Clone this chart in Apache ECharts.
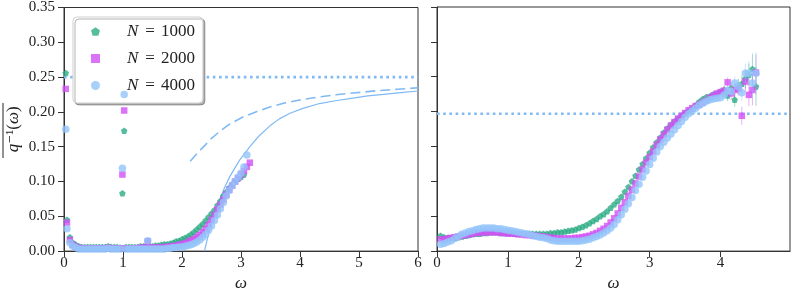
<!DOCTYPE html>
<html><head><meta charset="utf-8">
<script src="https://cdn.jsdelivr.net/npm/echarts@6/dist/echarts.min.js"></script>
<style>html,body{margin:0;padding:0;background:#fff}#c{width:793px;height:297px}</style>
</head><body><div id="c"></div>
<script>
// ---------- data ----------
const seriesNames = ['N = 1000', 'N = 2000', 'N = 4000'];
const xTicksLeft = [0, 1, 2, 3, 4, 5, 6];
const xTicksRight = [0, 1, 2, 3, 4];

// Left panel: omega grid 0.05 .. 3.15 (step 0.05)
const leftOmegaStart = 0.05, leftOmegaStep = 0.05;
const leftN1000 = [0.045,0.020,0.012,0.009,0.007,0.006,0.006,0.006,0.006,0.006,
  0.006,0.006,0.006,0.006,0.007,0.006,0.006,0.006,0.005,null,
  0.006,0.006,0.006,0.006,0.006,0.007,0.007,0.007,0.007,0.007,
  0.008,0.008,0.009,0.010,0.010,0.011,0.012,0.014,0.015,0.017,
  0.019,0.021,0.024,0.027,0.031,0.035,0.039,0.044,0.049,0.054,
  0.059,0.066,0.072,0.079,0.085,0.091,0.096,0.100,0.104,0.107,
  0.110,null,null];
const leftN2000 = [0.041,0.016,0.009,0.006,0.005,0.004,0.004,0.004,0.004,0.004,
  0.004,0.004,0.004,0.004,0.005,0.004,0.004,0.004,0.004,null,
  0.004,0.004,0.004,0.004,0.004,0.005,0.005,0.005,0.005,0.005,
  0.005,0.005,0.005,0.006,0.006,0.007,0.007,0.008,0.009,0.010,
  0.011,0.013,0.015,0.017,0.020,0.023,0.027,0.032,0.038,0.045,
  0.052,0.060,0.067,0.074,0.081,0.088,0.094,0.100,0.105,0.110,
  0.115,0.121,0.127];
const leftN4000 = [0.032,0.012,0.007,0.005,0.003,0.003,0.003,0.003,0.003,0.003,
  0.003,0.003,0.003,0.003,0.004,0.003,0.003,0.003,0.003,null,
  0.003,0.003,0.003,0.003,0.003,0.003,0.003,0.003,0.003,0.003,
  0.003,0.003,0.003,0.003,0.004,0.004,0.005,0.005,0.006,0.006,
  0.007,0.008,0.009,0.011,0.013,0.016,0.020,0.024,0.030,0.036,
  0.044,0.052,0.061,0.070,0.079,0.087,0.094,0.100,0.106,0.112,
  0.121,0.138,null];
// isolated points (omega, value)
const leftExtraOmega = [0.03, 0.99, 1.02, 1.42];
const leftExtra1000 = [0.256, 0.083, 0.173, 0.014];
const leftExtra2000 = [0.233, 0.110, 0.202, 0.014];
const leftExtra4000 = [0.175, 0.119, 0.225, 0.015];

// Left panel curves
const solidOmega = [2.38,2.42,2.47,2.52,2.58,2.64,2.72,2.81,2.90,2.98,3.07,3.15,3.30,3.49,3.65,3.83,4.05,4.33,4.60,4.84,5.15,5.46,5.75,6.00];
const solidValue = [0.000,0.014,0.031,0.045,0.060,0.074,0.091,0.107,0.120,0.131,0.141,0.150,0.165,0.180,0.190,0.198,0.205,0.212,0.216,0.219,0.223,0.2256,0.228,0.230];
const dashOmega = [2.14,2.22,2.31,2.40,2.50,2.64,2.80,3.04,3.25,3.49,3.75,4.05,4.33,4.61,4.95,5.29,5.65,6.00];
const dashValue = [0.129,0.137,0.145,0.153,0.162,0.172,0.182,0.193,0.200,0.207,0.213,0.218,0.2215,0.2246,0.2275,0.2303,0.2326,0.2346];
const leftLevel = 0.25;
const rightLevel = 0.197;

// Right panel: omega grid 0.05 .. 4.50 (step 0.05)
const rightOmegaStart = 0.05, rightOmegaStep = 0.05;
const rightN1000 = [.022,.020,.019,.019,.019,.020,.021,.022,.023,.024,
  .025,.025,.026,.026,.027,.027,.027,.026,.026,.026,
  .026,.025,.025,.025,.025,.025,.025,.025,.025,.025,
  .025,.026,.026,.027,.027,.028,.029,.030,.031,.033,
  .035,.037,.040,.043,.046,.050,.053,.057,.062,.067,
  .072,.078,.085,.092,.100,.108,.117,.125,.133,.141,
  .149,.156,.163,.170,.176,.181,.186,.190,.194,.198,
  .201,.204,.209,.214,.218,.221,.222,.225,.226,.229,
  .231,.223,.234,.217,.236,.240,.247,.253,.261,.236];
const rightN2000 = [.017,.017,.018,.019,.020,.021,.022,.023,.024,.025,
  .026,.026,.027,.027,.027,.027,.027,.026,.026,.025,
  .025,.025,.024,.024,.023,.023,.022,.022,.021,.021,
  .020,.019,.019,.018,.018,.018,.018,.018,.019,.019,
  .020,.021,.022,.024,.026,.029,.032,.036,.041,.047,
  .054,.062,.070,.079,.088,.097,.107,.117,.127,.135,
  .143,.152,.160,.167,.174,.180,.185,.190,.194,.198,
  .202,.205,.208,.210,.213,.216,.220,.223,.226,.228,
  .230,.242,.226,.231,.233,.194,.243,.224,.231,.256];
const rightN4000 = [.010,.011,.013,.015,.018,.021,.024,.026,.028,.029,
  .031,.032,.033,.033,.033,.033,.032,.032,.031,.030,
  .029,.028,.027,.026,.025,.024,.022,.021,.020,.019,
  .018,.016,.015,.014,.014,.014,.014,.014,.014,.014,
  .015,.016,.017,.019,.021,.023,.026,.029,.033,.038,
  .045,.052,.060,.068,.077,.087,.096,.106,.115,.124,
  .133,.142,.150,.156,.162,.168,.174,.180,.186,.192,
  .197,.201,.205,.209,.212,.215,.217,.218,.219,.220,
  .224,.230,.229,.241,.236,.227,.255,.255,.241,.255];
// error bars for the last 10 points of each right-panel series
const rightErr1000 = [.006,.008,.008,.010,.011,.012,.014,.016,.022,.028];
const rightErr2000 = [.006,.007,.009,.010,.010,.013,.015,.016,.022,.026];
const rightErr4000 = [.005,.007,.008,.009,.011,.012,.014,.017,.022,.030];

// ---------- styling ----------
const colors = ['#2aac84', '#d250f5', '#92c4fa'];
const lineBlue = '#80baf5';
const pentagon = 'path://M0,-10 L9.51,-3.09 L5.88,8.09 L-5.88,8.09 L-9.51,-3.09 Z';
const symbols = [pentagon, 'rect', 'circle'];
const sizes = [6.5, 6.5, 7.5];
const serif = "'Liberation Serif', 'DejaVu Serif', serif";

function grid(start, step, vals) {
  const out = [];
  vals.forEach((v, i) => { if (v !== null) out.push([+(start + step * i).toFixed(3), v]); });
  return out;
}
function zipXY(xs, ys) { return xs.map((x, i) => [x, ys[i]]); }

const leftSets = [leftN1000, leftN2000, leftN4000];
const leftExtras = [leftExtra1000, leftExtra2000, leftExtra4000];
const rightSets = [rightN1000, rightN2000, rightN4000];
const rightErrs = [rightErr1000, rightErr2000, rightErr4000];

const series = [];
series.push({type:'line', xAxisIndex:0, yAxisIndex:0, data:[[0,leftLevel],[6,leftLevel]], showSymbol:false, silent:true,
  lineStyle:{color:lineBlue, width:2.6, type:[2.6,3.6], cap:'butt'}, z:1});
series.push({type:'line', xAxisIndex:0, yAxisIndex:0, data:zipXY(dashOmega, dashValue), showSymbol:false, silent:true,
  smooth:false, lineStyle:{color:lineBlue, width:1.6, type:[10,5]}, z:1});
series.push({type:'line', xAxisIndex:0, yAxisIndex:0, data:zipXY(solidOmega, solidValue), showSymbol:false, silent:true,
  smooth:false, lineStyle:{color:lineBlue, width:1.2}, z:1});
series.push({type:'line', xAxisIndex:1, yAxisIndex:1, data:[[0,rightLevel],[4.98,rightLevel]], showSymbol:false, silent:true,
  lineStyle:{color:lineBlue, width:2.6, type:[2.6,3.6], cap:'butt'}, z:1});

for (let k = 0; k < 3; k++) {
  const leftData = grid(leftOmegaStart, leftOmegaStep, leftSets[k]).concat(zipXY(leftExtraOmega, leftExtras[k]));
  series.push({name:seriesNames[k], type:'scatter', xAxisIndex:0, yAxisIndex:0, data:leftData,
    symbol:symbols[k], symbolSize:sizes[k], itemStyle:{color:colors[k], opacity:0.8}, z:2+k});
  series.push({name:seriesNames[k], type:'scatter', xAxisIndex:1, yAxisIndex:1,
    data:grid(rightOmegaStart, rightOmegaStep, rightSets[k]),
    symbol:symbols[k], symbolSize:sizes[k], itemStyle:{color:colors[k], opacity:0.8}, z:2+k});
  const n = rightSets[k].length, m = rightErrs[k].length;
  const errData = rightErrs[k].map((e, i) => {
    const idx = n - m + i;
    return [+(rightOmegaStart + rightOmegaStep * idx).toFixed(3), rightSets[k][idx], e];
  });
  series.push({type:'custom', xAxisIndex:1, yAxisIndex:1, data:errData, silent:true, z:2+k,
    renderItem:(params, api) => {
      const x = api.value(0), y = api.value(1), e = api.value(2);
      const p1 = api.coord([x, y - e]), p2 = api.coord([x, y + e]);
      return {type:'line', shape:{x1:p1[0], y1:p1[1], x2:p2[0], y2:p2[1]},
        style:{stroke:colors[k], lineWidth:1, opacity:0.45}};
    }});
}

const axisCommon = {
  type:'value', splitLine:{show:false},
  axisLine:{show:true, onZero:false, lineStyle:{color:'#333', width:1}},
  axisTick:{show:true, inside:false, length:6, lineStyle:{color:'#333', width:1}},
  axisLabel:{color:'#222', fontFamily:serif, fontSize:15}
};

const option = {
  animation:false,
  backgroundColor:'#fff',
  grid:[
    {left:64, top:7, width:354, height:245, show:true, borderColor:'#333', borderWidth:1},
    {left:437, top:7, width:353, height:245, show:true, borderColor:'#333', borderWidth:1}
  ],
  xAxis:[
    Object.assign({}, axisCommon, {gridIndex:0, min:0, max:6, interval:1,
      axisLabel:Object.assign({}, axisCommon.axisLabel, {margin:4}),
      name:'ω', nameLocation:'middle', nameGap:22,
      nameTextStyle:{fontFamily:serif, fontStyle:'italic', fontSize:17, color:'#222'}}),
    Object.assign({}, axisCommon, {gridIndex:1, min:0, max:4.98, interval:1,
      axisLabel:Object.assign({}, axisCommon.axisLabel, {margin:4, showMaxLabel:false}),
      name:'ω', nameLocation:'middle', nameGap:22,
      nameTextStyle:{fontFamily:serif, fontStyle:'italic', fontSize:17, color:'#222'}})
  ],
  yAxis:[
    Object.assign({}, axisCommon, {gridIndex:0, min:0, max:0.35, interval:0.05,
      axisLabel:Object.assign({}, axisCommon.axisLabel, {margin:9, formatter:v => v.toFixed(2)}),
      name:'{i|q}{n|⁻¹(}{i|ω}{n|)}', nameLocation:'middle', nameGap:42, nameRotate:90,
      nameTextStyle:{fontFamily:serif, fontSize:17, color:'#222',
        rich:{i:{fontFamily:serif, fontStyle:'italic', fontSize:17, color:'#222'},
              n:{fontFamily:serif, fontSize:17, color:'#222'}}}}),
    Object.assign({}, axisCommon, {gridIndex:1, min:0, max:0.35, interval:0.05,
      axisLabel:{show:false}})
  ],
  legend:{
    left:73, top:17, orient:'vertical',
    padding:[6, 8, 9, 18], itemGap:10, itemWidth:9, itemHeight:9,
    backgroundColor:'#fff', borderColor:'#cfcfcf', borderWidth:1, borderRadius:4,
    shadowColor:'rgba(0,0,0,0.3)', shadowBlur:0, shadowOffsetX:2, shadowOffsetY:2,
    data:seriesNames.map((nm, k) => ({name:nm, icon:symbols[k], itemStyle:{color:colors[k], opacity:0.8}})),
    formatter:nm => '{sp|}{i|N}{e|=}{n|' + nm.split('= ')[1] + '}',
    textStyle:{fontFamily:serif, fontSize:17, color:'#222', lineHeight:14,
      rich:{
        sp:{width:22, lineHeight:14},
        i:{fontFamily:serif, fontStyle:'italic', fontSize:17, color:'#222', lineHeight:14},
        e:{fontFamily:serif, fontSize:17, color:'#222', padding:[0,6,0,7], lineHeight:14},
        n:{fontFamily:serif, fontSize:17, color:'#222', lineHeight:14}
      }}
  },
  graphic:[
    {type:'line', shape:{x1:3, y1:103, x2:3, y2:158}, style:{stroke:'#222', lineWidth:1}, silent:true}
  ],
  series:series
};

const chart = echarts.init(document.getElementById('c'), null, {renderer:'canvas'});
chart.setOption(option);
</script>
</body></html>
